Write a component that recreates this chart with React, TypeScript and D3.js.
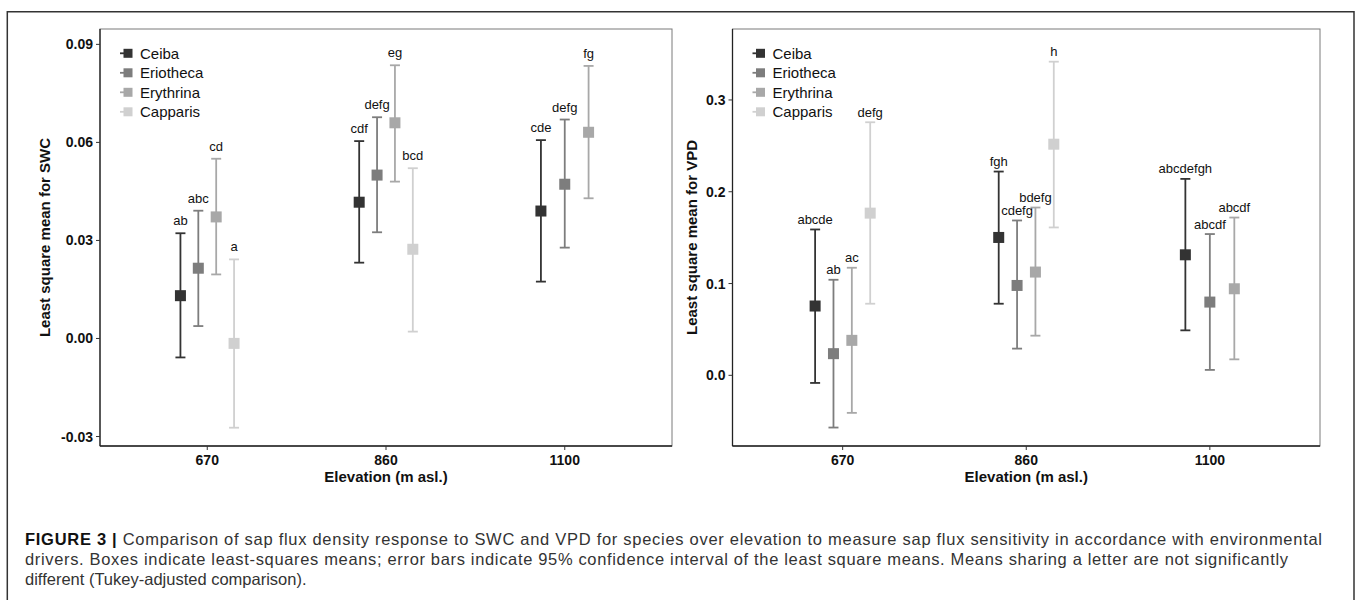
import React from "react";
import * as d3 from "d3";

const elevations = ["670", "860", "1100"];
const species = ["Ceiba", "Eriotheca", "Erythrina", "Capparis"];
const speciesColors = ["#333333", "#7d7d7d", "#a8a8a8", "#d0d0d0"];

// SWC panel: rows = species, columns = elevation
const swcMean = [
  [0.0131, 0.0417, 0.039],
  [0.0215, 0.05, 0.0472],
  [0.0372, 0.066, 0.0631],
  [-0.0015, 0.0273, null],
];
const swcLower = [
  [-0.0058, 0.0232, 0.0174],
  [0.0038, 0.0325, 0.0278],
  [0.0196, 0.048, 0.0429],
  [-0.0273, 0.0021, null],
];
const swcUpper = [
  [0.0322, 0.0604, 0.0607],
  [0.0391, 0.0677, 0.067],
  [0.055, 0.0836, 0.0834],
  [0.0242, 0.0521, null],
];
const swcLetters = [
  ["ab", "cdf", "cde"],
  ["abc", "defg", "defg"],
  ["cd", "eg", "fg"],
  ["a", "bcd", null],
];
const swcTicks = [-0.03, 0, 0.03, 0.06, 0.09];

// VPD panel
const vpdMean = [
  [0.0755, 0.1502, 0.1313],
  [0.0236, 0.0979, 0.0798],
  [0.0381, 0.1125, 0.0943],
  [0.1767, 0.2518, null],
];
const vpdLower = [
  [-0.0083, 0.078, 0.049],
  [-0.0569, 0.0291, 0.0059],
  [-0.0409, 0.0432, 0.0174],
  [0.078, 0.1611, null],
];
const vpdUpper = [
  [0.1589, 0.222, 0.214],
  [0.1041, 0.1687, 0.1539],
  [0.1172, 0.1828, 0.1719],
  [0.2757, 0.3417, null],
];
const vpdLetters = [
  ["abcde", "fgh", "abcdefgh"],
  ["ab", "cdefg", "abcdf"],
  ["ac", "bdefg", "abcdf"],
  ["defg", "h", null],
];
const vpdTicks = [0, 0.1, 0.2, 0.3];

const captionLines = [
  "Comparison of sap flux density response to SWC and VPD for species over elevation to measure sap flux sensitivity in accordance with environmental",
  "drivers. Boxes indicate least-squares means; error bars indicate 95% confidence interval of the least square means. Means sharing a letter are not significantly",
  "different (Tukey-adjusted comparison).",
];

const FONT = "'Liberation Sans', Arial, Helvetica, sans-serif";
const locale = d3.formatLocale({
  decimal: ".",
  thousands: ",",
  grouping: [3],
  currency: ["", ""],
  minus: "-",
});

type PanelProps = {
  x0: number;
  x1: number;
  y0: number;
  y1: number;
  domain: [number, number];
  ticks: number[];
  tickFmt: string;
  mean: (number | null)[][];
  lower: (number | null)[][];
  upper: (number | null)[][];
  letters: (string | null)[][];
  labelOffsetPx: number;
  yTitle: string;
  yTitleX: number;
};

function Panel(p: PanelProps) {
  const xPoint = d3.scalePoint<string>().domain(elevations).range([p.x0, p.x1]).padding(0.6);
  const step = xPoint.step();
  const dodge = 0.4 * step;
  const y = d3.scaleLinear().domain(p.domain).range([p.y1, p.y0]);
  const fmt = locale.format(p.tickFmt);
  const sq = 11;
  const cap = 10;

  const marks: React.ReactNode[] = [];
  elevations.forEach((el, j) => {
    const present = species.map((_, i) => i).filter((i) => p.mean[i][j] !== null);
    const n = present.length;
    present.forEach((i, k) => {
      const cx = (xPoint(el) as number) + (k - (n - 1) / 2) * (dodge / n);
      const m = p.mean[i][j] as number;
      const lo = p.lower[i][j] as number;
      const hi = p.upper[i][j] as number;
      const col = speciesColors[i];
      marks.push(
        <g key={`${i}-${j}`}>
          <line x1={cx} x2={cx} y1={y(lo)} y2={y(hi)} stroke={col} strokeWidth={1.8} />
          <line x1={cx - cap / 2} x2={cx + cap / 2} y1={y(lo)} y2={y(lo)} stroke={col} strokeWidth={1.8} />
          <line x1={cx - cap / 2} x2={cx + cap / 2} y1={y(hi)} y2={y(hi)} stroke={col} strokeWidth={1.8} />
          <rect x={cx - sq / 2} y={y(m) - sq / 2} width={sq} height={sq} fill={col} />
          {p.letters[i][j] && (
            <text
              x={cx}
              y={y(hi) - p.labelOffsetPx + 4.5}
              textAnchor="middle"
              fontSize={13}
              fill="#111"
              fontFamily={FONT}
            >
              {p.letters[i][j]}
            </text>
          )}
        </g>
      );
    });
  });

  const legX = p.x0 + 28;
  const legY0 = 53.3;
  const legDy = 19.5;

  return (
    <g>
      <rect x={p.x0} y={p.y0} width={p.x1 - p.x0} height={p.y1 - p.y0} fill="white" stroke="#7a7a7a" strokeWidth={1} />
      <line x1={p.x0} x2={p.x0} y1={p.y0} y2={p.y1} stroke="#222" strokeWidth={1.3} />
      <line x1={p.x0} x2={p.x1} y1={p.y1} y2={p.y1} stroke="#222" strokeWidth={1.3} />
      {p.ticks.map((t) => (
        <g key={t}>
          <line x1={p.x0 - 4} x2={p.x0} y1={y(t)} y2={y(t)} stroke="#333" strokeWidth={1} />
          <text
            x={p.x0 - 7}
            y={y(t) + 5}
            textAnchor="end"
            fontSize={14}
            fontWeight="bold"
            fill="#111"
            fontFamily={FONT}
          >
            {fmt(t)}
          </text>
        </g>
      ))}
      {elevations.map((el) => (
        <g key={el}>
          <line x1={xPoint(el)} x2={xPoint(el)} y1={p.y1} y2={p.y1 + 4} stroke="#333" strokeWidth={1} />
          <text
            x={xPoint(el)}
            y={p.y1 + 19}
            textAnchor="middle"
            fontSize={14}
            fontWeight="bold"
            fill="#111"
            fontFamily={FONT}
          >
            {el}
          </text>
        </g>
      ))}
      <text
        x={(p.x0 + p.x1) / 2}
        y={p.y1 + 36}
        textAnchor="middle"
        fontSize={15}
        fontWeight="bold"
        fill="#111"
        fontFamily={FONT}
      >
        Elevation (m asl.)
      </text>
      <text
        transform={`translate(${p.yTitleX},${(p.y0 + p.y1) / 2}) rotate(-90)`}
        textAnchor="middle"
        fontSize={15}
        fontWeight="bold"
        fill="#111"
        fontFamily={FONT}
      >
        {p.yTitle}
      </text>
      {marks}
      {species.map((s, i) => {
        const cy = legY0 + i * legDy;
        return (
          <g key={s}>
            <line x1={legX - 8} x2={legX} y1={cy} y2={cy} stroke={speciesColors[i]} strokeWidth={1.8} />
            <rect x={legX - 4.5} y={cy - 4.5} width={9} height={9} fill={speciesColors[i]} />
            <text x={legX + 12} y={cy + 5.3} fontSize={15} fill="#111" fontFamily={FONT}>
              {s}
            </text>
          </g>
        );
      })}
    </g>
  );
}

export default function App() {
  return (
    <svg
      width={1360}
      height={600}
      style={{ position: "absolute", left: 0, top: 0, background: "white" }}
    >
      <rect x={0} y={0} width={1360} height={600} fill="white" />
      <path d="M7.3,600 L7.3,11.7 L1354,11.7 L1354,600" fill="none" stroke="#333" strokeWidth={1.5} />
      <Panel
        x0={100}
        x1={672}
        y0={29}
        y1={446}
        domain={[-0.0329, 0.0947]}
        ticks={swcTicks}
        tickFmt=".2f"
        mean={swcMean}
        lower={swcLower}
        upper={swcUpper}
        letters={swcLetters}
        labelOffsetPx={12.5}
        yTitle="Least square mean for SWC"
        yTitleX={49.5}
      />
      <Panel
        x0={732.5}
        x1={1320}
        y0={29}
        y1={446}
        domain={[-0.077, 0.3773]}
        ticks={vpdTicks}
        tickFmt=".1f"
        mean={vpdMean}
        lower={vpdLower}
        upper={vpdUpper}
        letters={vpdLetters}
        labelOffsetPx={10}
        yTitle="Least square mean for VPD"
        yTitleX={697}
      />
      <text x={25} y={545} fontSize={16.5} fill="#333" fontFamily={FONT} textLength={1297} lengthAdjust="spacing">
        <tspan fontWeight="bold" fill="#111">FIGURE 3 | </tspan>
        {captionLines[0]}
      </text>
      <text x={25} y={565} fontSize={16.5} fill="#333" fontFamily={FONT} textLength={1263} lengthAdjust="spacing">
        {captionLines[1]}
      </text>
      <text x={25} y={584.5} fontSize={16.5} fill="#333" fontFamily={FONT}>
        {captionLines[2]}
      </text>
    </svg>
  );
}
